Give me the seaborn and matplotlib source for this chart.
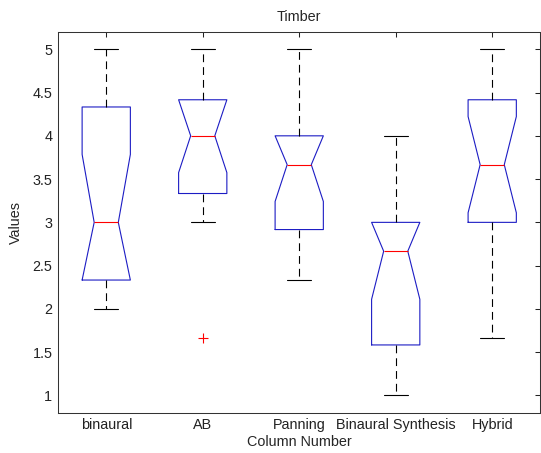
import numpy as np
import pandas as pd
import seaborn as sns
import matplotlib
matplotlib.use("Agg")
import matplotlib.pyplot as plt
from matplotlib.ticker import FormatStrFormatter

# x categories
columns = ['binaural', 'AB', 'Panning', 'Binaural Synthesis', 'Hybrid']

# ratings as sums of three judgements (mean = value / 3)
binaural = [6, 6, 7, 7, 7, 8, 9, 9, 9, 11, 12, 13, 13, 14, 15, 15]
ab = [5, 9, 9, 10, 10, 11, 12, 12, 12, 12, 13, 13, 14, 14, 15, 15]
panning = [7, 7, 8, 8, 9, 10, 11, 11, 11, 12, 12, 12, 12, 13, 14, 15]
binaural_synthesis = [3, 3, 4, 4, 5, 6, 7, 8, 8, 8, 9, 9, 9, 10, 11, 12]
hybrid = [5, 7, 9, 9, 9, 10, 11, 11, 11, 12, 13, 13, 14, 14, 15, 15]

y_ticks = [1, 1.5, 2, 2.5, 3, 3.5, 4, 4.5, 5]

series = [binaural, ab, panning, binaural_synthesis, hybrid]
df = pd.DataFrame({
    'column': np.concatenate([[c] * len(s) for c, s in zip(columns, series)]),
    'value': np.concatenate([np.array(s) / 3 for s in series]),
})

sns.set_style('white')
plt.rcParams['font.family'] = ['Liberation Sans', 'DejaVu Sans']

fig = plt.figure(figsize=(5.41, 4.53), dpi=100)
ax = fig.add_axes([0.1072, 0.0889, 0.8918, 0.8405])

box_blue = '#1c1cc4'
sns.boxplot(data=df, x='column', y='value', order=columns, ax=ax,
            width=0.5, fill=False, notch=True, whis=1.5,
            linecolor=box_blue, linewidth=0.8, capwidths=0.25,
            boxprops=dict(color=box_blue, linewidth=0.8),
            medianprops=dict(color='red', linewidth=0.8),
            whiskerprops=dict(color='black', linewidth=0.8, linestyle=(0, (7, 4.5))),
            capprops=dict(color='black', linewidth=0.8),
            flierprops=dict(marker='+', markeredgecolor='red', markerfacecolor='red',
                            markersize=7, markeredgewidth=0.8))

# clip notches to the box like MATLAB does
for line in ax.lines:
    y = np.asarray(line.get_ydata(), dtype=float)
    if len(y) == 11:
        line.set_ydata(np.clip(y, min(y[0], y[5]), max(y[0], y[5])))

ax.set_xlim(-0.5, 4.5)
ax.set_ylim(0.8, 5.2)
ax.set_yticks(y_ticks)
ax.yaxis.set_major_formatter(FormatStrFormatter('%g'))
ax.tick_params(direction='in', length=3.6, width=0.75, top=True, right=True,
               labelsize=10.4, pad=4, colors='#222222')
for sp in ax.spines.values():
    sp.set_visible(True)
    sp.set_color('#333333')
    sp.set_linewidth(0.75)

ax.set_title('Timber', fontsize=10.4, pad=8)
ax.set_xlabel('Column Number', fontsize=10.4, labelpad=2)
ax.set_ylabel('Values', fontsize=10.4, labelpad=7)

fig.savefig('out.png', dpi=100)
